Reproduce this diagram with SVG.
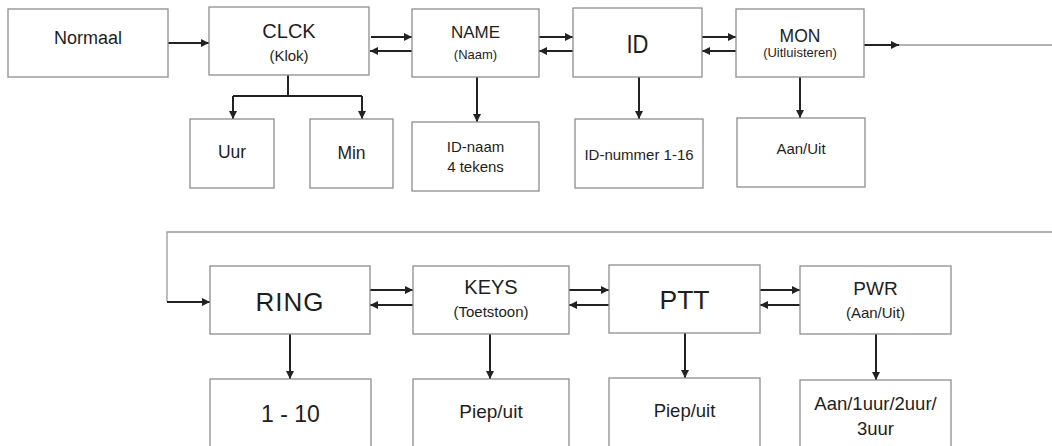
<svg xmlns="http://www.w3.org/2000/svg" width="1052" height="446" viewBox="0 0 1052 446">
<style>
.box{fill:#fff;stroke:#8e8e8e;stroke-width:1.3}
.t{font-family:"Liberation Sans",Arial,sans-serif;fill:#1e1e1e;text-anchor:middle}
.c{stroke:#222;stroke-width:2;fill:none}
.g{stroke:#9a9a9a;stroke-width:1.3;fill:none}
</style>
<defs>
<marker id="ah" markerUnits="userSpaceOnUse" markerWidth="9" markerHeight="9" refX="8" refY="4.5" orient="auto">
<path d="M0,0.5 L8,4.5 L0,8.5 z" fill="#222"/>
</marker>
</defs>
<rect width="1052" height="446" fill="#fff"/>
<g id="connectors">
<line class="c" x1="168" y1="43" x2="209" y2="43" marker-end="url(#ah)"/>
<line class="c" x1="371" y1="37" x2="412" y2="37" marker-end="url(#ah)"/>
<line class="c" x1="412" y1="51" x2="370" y2="51" marker-end="url(#ah)"/>
<line class="c" x1="539" y1="37" x2="573" y2="37" marker-end="url(#ah)"/>
<line class="c" x1="573" y1="51" x2="539" y2="51" marker-end="url(#ah)"/>
<line class="c" x1="702" y1="37" x2="736" y2="37" marker-end="url(#ah)"/>
<line class="c" x1="736" y1="51" x2="702" y2="51" marker-end="url(#ah)"/>
<line class="c" x1="864" y1="45" x2="899" y2="45" marker-end="url(#ah)"/>
<line class="g" x1="899" y1="45" x2="1052" y2="45"/>
<polyline class="c" points="288,75 288,96"/>
<polyline class="c" points="233,96 362,96"/>
<line class="c" x1="233" y1="96" x2="233" y2="119" marker-end="url(#ah)"/>
<line class="c" x1="362" y1="96" x2="362" y2="119" marker-end="url(#ah)"/>
<line class="c" x1="477" y1="77" x2="477" y2="122" marker-end="url(#ah)"/>
<line class="c" x1="639" y1="77" x2="639" y2="119" marker-end="url(#ah)"/>
<line class="c" x1="800" y1="77" x2="800" y2="118" marker-end="url(#ah)"/>
<polyline class="g" points="1052,232 167,232 167,302"/>
<line class="c" x1="167" y1="302" x2="210" y2="302" marker-end="url(#ah)"/>
<line class="c" x1="370" y1="290" x2="413" y2="290" marker-end="url(#ah)"/>
<line class="c" x1="413" y1="305" x2="370" y2="305" marker-end="url(#ah)"/>
<line class="c" x1="569" y1="290" x2="609" y2="290" marker-end="url(#ah)"/>
<line class="c" x1="609" y1="305" x2="569" y2="305" marker-end="url(#ah)"/>
<line class="c" x1="760" y1="290" x2="800" y2="290" marker-end="url(#ah)"/>
<line class="c" x1="800" y1="305" x2="760" y2="305" marker-end="url(#ah)"/>
<line class="c" x1="290" y1="334" x2="290" y2="379" marker-end="url(#ah)"/>
<line class="c" x1="490" y1="334" x2="490" y2="379" marker-end="url(#ah)"/>
<line class="c" x1="685" y1="333" x2="685" y2="378" marker-end="url(#ah)"/>
<line class="c" x1="876" y1="334" x2="876" y2="380" marker-end="url(#ah)"/>
</g>
<g id="normaal"><rect class="box" x="8" y="9" width="160" height="68"/><text class="t" x="88" y="44" font-size="18">Normaal</text></g>
<g id="clck"><rect class="box" x="209" y="7" width="160" height="68"/><text class="t" x="289" y="38" font-size="20">CLCK</text><text class="t" x="289" y="61" font-size="15">(Klok)</text></g>
<g id="name"><rect class="box" x="412" y="9" width="127" height="68"/><text class="t" x="475.5" y="38" font-size="17">NAME</text><text class="t" x="475.5" y="59" font-size="13">(Naam)</text></g>
<g id="id"><rect class="box" x="573" y="8" width="129" height="69"/><text class="t" x="637.5" y="53" font-size="25" transform="translate(637.5 0) scale(0.88 1) translate(-637.5 0)">ID</text></g>
<g id="mon"><rect class="box" x="736" y="9" width="128" height="68"/><text class="t" x="800" y="42" font-size="17.5">MON</text><text class="t" x="800" y="57" font-size="13">(Uitluisteren)</text></g>
<g id="uur"><rect class="box" x="190" y="119" width="84" height="69"/><text class="t" x="232" y="158" font-size="17.5">Uur</text></g>
<g id="min"><rect class="box" x="310" y="119" width="83" height="69"/><text class="t" x="351.5" y="159" font-size="17.5">Min</text></g>
<g id="idnaam"><rect class="box" x="412" y="122" width="127" height="69"/><text class="t" x="475.5" y="152" font-size="15">ID-naam</text><text class="t" x="475.5" y="172" font-size="15">4 tekens</text></g>
<g id="idnummer"><rect class="box" x="575" y="119" width="128" height="69"/><text class="t" x="639" y="160" font-size="15">ID-nummer 1-16</text></g>
<g id="aanuit"><rect class="box" x="737" y="118" width="128" height="69"/><text class="t" x="801" y="154" font-size="15">Aan/Uit</text></g>
<g id="ring"><rect class="box" x="210" y="266" width="160" height="68"/><text class="t" x="290" y="311" font-size="26" letter-spacing="1">RING</text></g>
<g id="keys"><rect class="box" x="413" y="266" width="156" height="68"/><text class="t" x="491" y="294" font-size="20">KEYS</text><text class="t" x="491" y="317" font-size="15">(Toetstoon)</text></g>
<g id="ptt"><rect class="box" x="609" y="265" width="151" height="68"/><text class="t" x="684.5" y="309" font-size="26.5">PTT</text></g>
<g id="pwr"><rect class="box" x="800" y="266" width="151" height="68"/><text class="t" x="875.5" y="295" font-size="19">PWR</text><text class="t" x="875.5" y="318" font-size="15">(Aan/Uit)</text></g>
<g id="r110"><rect class="box" x="210" y="379" width="161" height="80"/><text class="t" x="290.5" y="422" font-size="23">1 - 10</text></g>
<g id="keyspiep"><rect class="box" x="413" y="379" width="156" height="80"/><text class="t" x="491" y="418" font-size="19">Piep/uit</text></g>
<g id="pttpiep"><rect class="box" x="609" y="378" width="151" height="80"/><text class="t" x="684.5" y="417" font-size="18.5">Piep/uit</text></g>
<g id="pwrtijd"><rect class="box" x="800" y="380" width="151" height="80"/><text class="t" x="875.5" y="410" font-size="18.5">Aan/1uur/2uur/</text><text class="t" x="875.5" y="435" font-size="18.5">3uur</text></g>
</svg>
